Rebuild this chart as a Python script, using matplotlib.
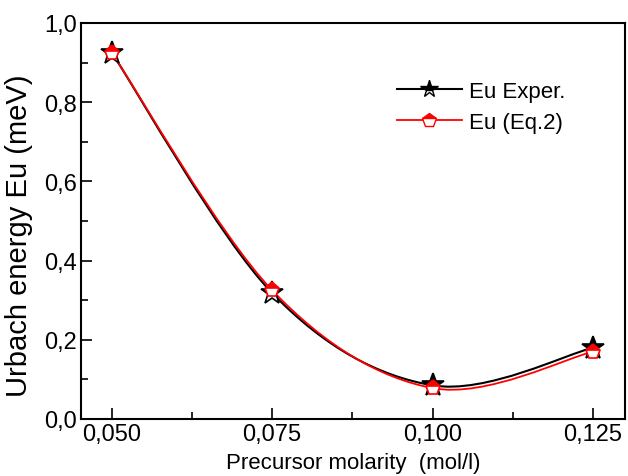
import numpy as np
import matplotlib
matplotlib.use("Agg")
from matplotlib import pyplot as plt
from matplotlib.path import Path
from matplotlib.patches import PathPatch
from matplotlib.ticker import FuncFormatter, MultipleLocator
from matplotlib.lines import Line2D

molarity = [0.050, 0.075, 0.100, 0.125]
eu_exper = [0.925, 0.318, 0.085, 0.180]
eu_eq2 = [0.925, 0.325, 0.078, 0.170]

plt.rcParams['font.family'] = ['Liberation Sans', 'DejaVu Sans']


def smooth_path(x, y):
    """Catmull-Rom style cubic Bezier path through the data points."""
    x = np.asarray(x, float)
    y = np.asarray(y, float)
    verts = [(x[0], y[0])]
    codes = [Path.MOVETO]
    n = len(x)
    for i in range(n - 1):
        p0 = i - 1 if i > 0 else i
        p3 = i + 2 if i + 2 < n else i + 1
        c1 = (x[i] + (x[i + 1] - x[p0]) / 6, y[i] + (y[i + 1] - y[p0]) / 6)
        c2 = (x[i + 1] - (x[p3] - x[i]) / 6, y[i + 1] - (y[p3] - y[i]) / 6)
        verts += [c1, c2, (x[i + 1], y[i + 1])]
        codes += [Path.CURVE4] * 3
    return Path(verts, codes)


fig = plt.figure(figsize=(6.28, 4.77), dpi=100)
ax = fig.add_axes([81 / 628, 1 - 420 / 477, 544 / 628, 396 / 477])

ax.add_patch(PathPatch(smooth_path(molarity, eu_exper), facecolor='none',
                       edgecolor='black', lw=1.5))
ax.add_patch(PathPatch(smooth_path(molarity, eu_eq2), facecolor='none',
                       edgecolor='red', lw=1.3))

ax.plot(molarity, eu_exper, ls='none', marker='*', ms=17, color='black',
        fillstyle='top', markerfacecoloralt='white', mew=1.2)
ax.plot(molarity, eu_eq2, ls='none', marker='p', ms=11, color='red',
        fillstyle='top', markerfacecoloralt='white', mew=1.2)

ax.set_xlim(0.0452, 0.130)
ax.set_ylim(0.0, 1.0)
ax.xaxis.set_major_locator(MultipleLocator(0.025))
ax.xaxis.set_minor_locator(MultipleLocator(0.0125))
ax.yaxis.set_major_locator(MultipleLocator(0.2))
ax.yaxis.set_minor_locator(MultipleLocator(0.1))
ax.xaxis.set_major_formatter(FuncFormatter(lambda v, p: f"{v:.3f}".replace('.', ',')))
ax.yaxis.set_major_formatter(FuncFormatter(lambda v, p: f"{v:.1f}".replace('.', ',')))
ax.tick_params(which='both', direction='in', top=False, right=False,
               labelsize=17, width=1.2, pad=3)
ax.tick_params(which='major', length=8)
ax.tick_params(which='minor', length=5)
for s in ax.spines.values():
    s.set_linewidth(1.5)

ax.set_xlabel("Precursor molarity  (mol/l)", fontsize=16, labelpad=5)
ax.set_ylabel("Urbach energy Eu (meV)", fontsize=21)
ax.yaxis.set_label_coords(-0.088, 0.465)

handles = [
    Line2D([], [], color='black', lw=1.5, marker='*', ms=13,
           fillstyle='top', markerfacecoloralt='white'),
    Line2D([], [], color='red', lw=1.3, marker='p', ms=10,
           fillstyle='top', markerfacecoloralt='white'),
]
ax.legend(handles, ["Eu Exper.", "Eu (Eq.2)"], loc='upper left',
          bbox_to_anchor=(0.581, 0.853), frameon=False, fontsize=16,
          borderaxespad=0, borderpad=0,
          handlelength=2.9, handletextpad=0.35, labelspacing=0.45)

fig.savefig("out.png", dpi=100)
